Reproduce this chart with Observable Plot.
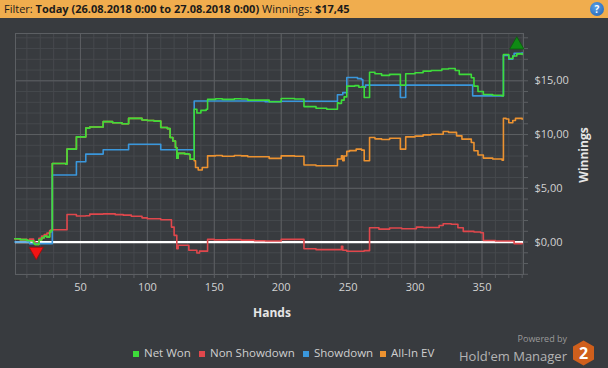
<!DOCTYPE html>
<html><head><meta charset="utf-8">
<script src="https://cdn.jsdelivr.net/npm/d3@7"></script>
<script src="https://cdn.jsdelivr.net/npm/@observablehq/plot@0.6"></script>
<style>
body{margin:0;background:#383b3f;width:608px;height:368px;overflow:hidden;font-family:"Open Sans",sans-serif;position:relative;}
#header{position:absolute;left:0;top:0;width:608px;height:18px;background:#f0ad4e;font-size:11px;color:#1b1b1b;line-height:18px;white-space:nowrap;}
#header .t{position:absolute;left:4px;top:0;}
#help{position:absolute;left:590px;top:2px;width:14px;height:14px;border-radius:50%;background:radial-gradient(circle at 40% 35%,#5aa0e8,#1d5fb0);color:#fff;font-weight:bold;font-size:10px;text-align:center;line-height:14px;}
#chart{position:absolute;top:18px;left:0;}
.lab{position:absolute;color:#e6e6e6;font-weight:bold;font-size:12px;white-space:nowrap;}
.leg{position:absolute;top:345px;font-size:11.5px;color:#cfcfcf;white-space:nowrap;line-height:16px;}
.leg i{position:absolute;left:-11px;top:6px;width:6px;height:6px;}
#pb{position:absolute;right:41px;top:334px;font-size:9px;line-height:10px;color:#9a9a9a;}
#hm{position:absolute;right:41px;top:349px;font-size:13px;line-height:15px;color:#b4b4b4;white-space:nowrap;}
#logo{position:absolute;left:572px;top:340px;}
</style>
</head><body>
<div id="header"><span class="t">Filter: <b>Today (26.08.2018 0:00 to 27.08.2018 0:00)</b> Winnings: <b>$17,45</b></span><div id="help">?</div></div>
<div id="chart"></div>
<div class="lab" style="left:253px;top:304px;">Hands</div>
<div class="lab" style="left:583px;top:155px;transform:translate(-50%,-50%) rotate(-90deg);">Winnings</div>
<div id="legend"></div>
<div id="pb">Powered by</div>
<div id="hm">Hold'em Manager</div>
<svg id="logo" width="23" height="26" viewBox="0 0 23 26"><polygon points="11.5,0.5 22,6.5 22,19.5 11.5,25.5 1,19.5 1,6.5" fill="#cf5f1c"/><text x="11.5" y="19" text-anchor="middle" font-family="Open Sans" font-weight="bold" font-size="16" fill="#fff">2</text></svg>
<script>
// ---- data ----
const seriesNames = ["Net Won", "Non Showdown", "Showdown", "All-In EV"];
const seriesColors = ["#3ddc3a", "#e0474c", "#3a97dc", "#ec9230"];

const netWonHands = [1,5,10,12,15,16,19,21,23,25,27,28,29,35,39,40,47,54,57,67,74,81,86,96,100,105,110,115,117,119,121,122,123,128,131,132,135,137,140,144,145,151,156,165,170,175,184,191,200,210,217,226,234,242,243,245,247,249,255,258,260,262,266,270,275,281,289,293,300,306,312,320,325,330,333,342,344,347,351,358,365,366,370,373,376,380];
const netWon = [0.31,0.22,0.15,0.12,-0.1,-0.22,0.2,0.4,0.55,0.46,0.93,1.08,7.31,7.3,7.25,8.64,9.78,10.6,10.7,11.2,11.1,11.0,11.5,11.35,11.3,11.25,10.65,10.55,9.72,9.4,8.8,7.8,8.25,8.2,8.15,7.7,12.35,12.0,12.25,12.35,13.27,13.33,13.27,13.33,13.3,13.2,13.2,13.05,13.36,13.3,12.6,12.45,12.35,12.96,12.9,13.2,13.5,14.5,14.55,14.4,14.45,13.45,15.8,15.65,15.5,15.6,14.6,15.65,15.75,15.9,15.96,16.1,16.14,15.96,15.6,15.28,14.5,14.0,13.73,13.65,13.58,17.44,17.07,17.3,17.5,17.45];

const nonShowdownHands = [1,5,10,12,15,16,19,21,23,25,27,28,40,47,54,57,67,76,82,88,96,100,110,118,120,122,123,131,137,139,145,150,160,170,180,188,200,217,226,245,246,249,262,266,273,281,290,301,306,318,321,327,332,336,344,349,351,360,370,374,380];
const nonShowdown = [0.31,0.22,0.15,0.27,0.05,-0.07,0.35,0.55,0.7,0.83,1.08,1.14,2.56,2.42,2.45,2.6,2.62,2.55,2.5,2.4,2.25,2.16,2.07,1.39,0.62,-0.62,-0.3,-0.77,-1.02,-0.85,0.25,0.2,0.22,0.18,0.12,0.09,0.25,-0.62,-0.71,-0.4,-0.77,-0.86,-0.8,1.33,1.2,1.3,1.23,1.39,1.35,1.54,1.7,1.65,1.33,0.99,0.93,0.86,0.15,0.09,0.09,-0.15,-0.15];

const showdownHands = [1,12,29,47,54,67,86,110,135,188,200,242,246,249,257,260,261,263,289,293,343,366,370,373,374,380];
const showdown = [0,-0.15,6.23,7.47,8.18,8.58,9.1,8.58,13.12,13.06,13.1,13.7,13.9,15.3,15.2,15.1,14.4,14.6,13.45,14.6,13.6,17.35,17.0,17.3,17.55,17.6];

const allInEVHands = [1,5,10,12,15,16,19,21,23,25,27,28,29,35,39,40,47,54,57,67,74,81,86,96,100,105,110,115,117,119,121,122,123,128,131,132,135,136,138,141,145,151,156,165,170,175,184,191,200,210,217,226,234,242,245,246,247,249,251,256,260,262,266,270,275,281,289,293,300,306,312,321,325,331,335,342,344,347,351,358,365,366,368,370,373,375,380];
const allInEV = [0.31,0.22,0.15,0.12,-0.1,-0.22,0.2,0.4,0.55,0.46,0.93,1.08,7.31,7.3,7.25,8.64,9.78,10.6,10.7,11.2,11.1,11.0,11.5,11.35,11.3,11.25,10.65,10.55,9.72,9.4,8.8,7.8,8.25,8.2,8.15,7.7,7.56,6.94,6.7,6.94,8.02,8.05,7.98,8.05,8.02,7.93,7.93,7.78,8.02,7.98,7.16,7.1,7.1,7.72,8.02,7.56,8.0,8.43,8.5,8.64,8.55,7.56,9.72,9.6,9.54,9.66,8.64,9.78,9.85,9.97,10.03,10.28,10.2,9.88,9.57,9.26,8.49,8.1,7.81,7.72,7.62,11.51,11.45,11.1,11.3,11.5,11.42];

const markerHands = [17, 376];
const markerValues = [-0.22, 17.5];

const xMinorTicks = d3.range(10, 381, 10);
const xMajorTicks = [50, 100, 150, 200, 250, 300, 350];
const yMinorTicks = d3.range(-3, 20, 1);
const yMajorTicks = [0, 5, 10, 15];

// ---- build ----
const rows = (h, v) => h.map((d, i) => ({hand: d, value: v[i]}));
const series = [
  rows(netWonHands, netWon),
  rows(nonShowdownHands, nonShowdown),
  rows(showdownHands, showdown),
  rows(allInEVHands, allInEV)
];
const markers = rows(markerHands, markerValues);
const fmtMoney = d => "$" + d.toFixed(2).replace(".", ",");
const drawOrder = [3, 1, 2, 0];

const chart = Plot.plot({
  width: 608, height: 312,
  marginLeft: 15, marginRight: 85, marginTop: 15, marginBottom: 56,
  x: {domain: [1.5, 381]},
  y: {domain: [-3.02, 19.4]},
  style: {background: "transparent", color: "#d2d2d2", fontFamily: "Open Sans", fontSize: "11px"},
  marks: [
    Plot.gridX(xMinorTicks, {stroke: "#46494d", strokeOpacity: 1}),
    Plot.gridY(yMinorTicks, {stroke: "#46494d", strokeOpacity: 1}),
    Plot.gridX(xMajorTicks, {stroke: "#5c5f63", strokeOpacity: 1}),
    Plot.gridY(yMajorTicks, {stroke: "#5c5f63", strokeOpacity: 1}),
    Plot.frame({stroke: "#5c5f63"}),
    Plot.axisX(xMinorTicks, {anchor: "bottom", tickSize: 4, stroke: "#5c5f63", color: "#d2d2d2", tickPadding: 5, tickFormat: d => xMajorTicks.includes(d) ? String(d) : "", label: null}),
    Plot.axisY(yMinorTicks, {anchor: "right", tickSize: 4, stroke: "#5c5f63", color: "#d2d2d2", tickPadding: 7, tickFormat: d => yMajorTicks.includes(d) ? fmtMoney(d) : "", label: null}),
    Plot.ruleY([0], {stroke: "#ffffff", strokeWidth: 2.2}),
    ...drawOrder.map(i => Plot.line(series[i], {x: "hand", y: "value", curve: "step-after", stroke: seriesColors[i], strokeWidth: 1.6})),
    Plot.dot(markers.slice(0, 1), {x: "hand", y: "value", symbol: "triangle", r: 5.3, rotate: 180, dy: 7, fill: "#f21414", stroke: "#9a0c0c", strokeWidth: 0.8}),
    Plot.dot(markers.slice(1), {x: "hand", y: "value", symbol: "triangle", r: 5.3, dy: -9, fill: "#0f8a14", stroke: "#0a5c0d", strokeWidth: 0.8})
  ]
});
document.getElementById("chart").appendChild(chart);

// legend
const legendLeft = [144, 210, 314, 391];
const legend = document.getElementById("legend");
seriesNames.forEach((name, i) => {
  const s = document.createElement("span");
  s.className = "leg";
  s.style.left = legendLeft[i] + "px";
  s.innerHTML = `<i style="background:${seriesColors[i]}"></i>${name}`;
  legend.appendChild(s);
});
</script>
</body></html>
